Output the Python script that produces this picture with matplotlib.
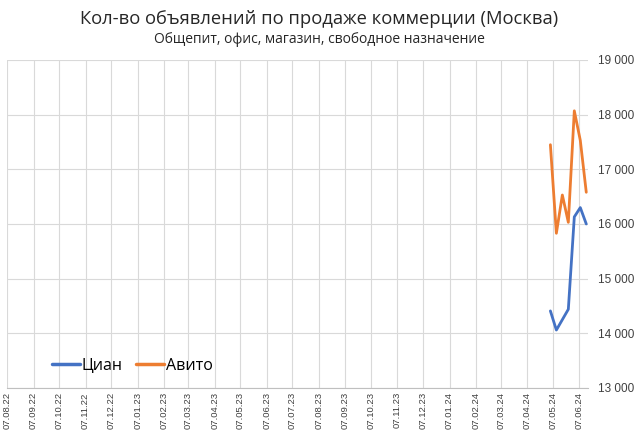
import matplotlib
matplotlib.use("Agg")
import matplotlib.pyplot as plt
import matplotlib.dates as mdates
from matplotlib.ticker import FuncFormatter, MultipleLocator
import pandas as pd

title = "Кол-во объявлений по продаже коммерции (Москва)"
subtitle = "Общепит, офис, магазин, свободное назначение"

dates = ["2024-05-04", "2024-05-11", "2024-05-18", "2024-05-25",
         "2024-06-01", "2024-06-08", "2024-06-15"]
cian = [14410, 14060, 14250, 14440, 16130, 16300, 16000]
avito = [17450, 15830, 16530, 16030, 18070, 17530, 16580]
tick_dates = pd.date_range("2022-08-01", "2024-06-01", freq="MS") + pd.Timedelta(days=6)

dates = pd.to_datetime(dates)

fig = plt.figure(figsize=(6.38, 4.42), dpi=100)
ax = fig.add_axes([0.011, 0.1222, 0.9106, 0.7421])

ax.plot(dates, cian, color="#4472C4", lw=2.0, label="Циан", solid_capstyle="round")
ax.plot(dates, avito, color="#ED7D31", lw=2.0, label="Авито", solid_capstyle="round")

ax.set_xlim(pd.Timestamp("2022-08-07"), pd.Timestamp("2024-06-17"))
ax.set_ylim(13000, 19000)
ax.yaxis.set_major_locator(MultipleLocator(1000))
ax.yaxis.set_major_formatter(FuncFormatter(lambda v, p: f"{int(v):,}".replace(",", " ")))
ax.yaxis.tick_right()
ax.set_xticks(tick_dates)
ax.xaxis.set_major_formatter(mdates.DateFormatter("%d.%m.%y"))
for lbl in ax.get_xticklabels():
    lbl.set_rotation(90)
    lbl.set_fontsize(6.8)
    lbl.set_family("Liberation Sans")
    lbl.set_color("#404040")
for lbl in ax.get_yticklabels():
    lbl.set_fontsize(8.5)
    lbl.set_family("Liberation Sans")
    lbl.set_color("#404040")
ax.tick_params(axis="both", length=0)
ax.tick_params(axis="y", pad=7)
ax.tick_params(axis="x", pad=3)

ax.grid(True, color="#D9D9D9", lw=0.8)
ax.set_axisbelow(True)
for s in ["top", "left", "right"]:
    ax.spines[s].set_visible(False)
ax.spines["bottom"].set_color("#BFBFBF")

leg = ax.legend(loc="lower left", bbox_to_anchor=(0.052, 0.0), ncol=2, frameon=False,
                prop={"family": "Open Sans", "size": 11.5}, handlelength=1.75,
                columnspacing=0.8, handletextpad=0.15)
for line in leg.get_lines():
    line.set_linewidth(2.5)

fig.text(0.5, 0.957, title, ha="center", va="center", fontsize=13.2,
         family="Open Sans", color="#262626")
fig.text(0.5, 0.91, subtitle, ha="center", va="center", fontsize=10,
         family="Open Sans", color="#262626")

fig.savefig("out.png", dpi=100, facecolor="white")
